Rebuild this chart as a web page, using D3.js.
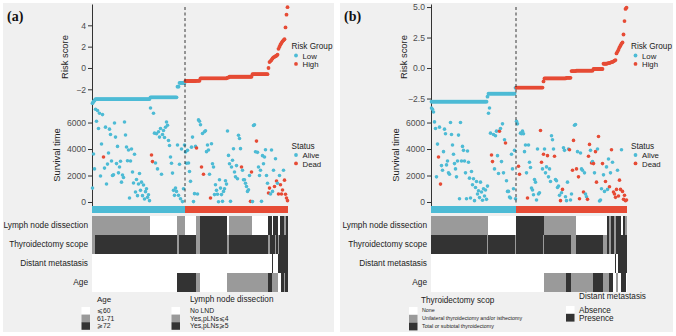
<!DOCTYPE html>
<html><head><meta charset="utf-8">
<script src="https://cdn.jsdelivr.net/npm/d3@7/dist/d3.min.js"></script>
<style>body{margin:0;background:#fff;} svg text{font-family:"Liberation Sans",Arial,Helvetica,sans-serif;}</style>
</head><body><svg id="c" width="676" height="336"></svg>
<script>
// ---------- DATA: panel (a) ----------
// patients sorted by risk score; runs of equal score / equal clinical category
const runN_A     = [1,1,1,55,27,2,6,11,4,27,2,23,16, 1,1,1,1,1,1,1,1,1,1, 1,1,1,1,1,1,1,1,1,1];
const runScore_A = [-3.3,-3.15,-3.05,-2.92,-2.75,-1.75,-1.4,-1.22,-1.2,-0.97,-0.9,-0.82,-0.58, 0.0,0.55,0.65,0.75,0.9,1.0,1.05,1.1,1.15,1.25, 1.8,2.0,2.2,2.35,2.5,2.6,2.7,3.8,5.0,5.7];
const runLND_A   = [1,1,1,1,0,1,1,0,1,2,0,1,0, 2,2,2,2,0,2,2,2,2,2, 0,0,2,2,2,2,1,1,2,2];
const runThy_A   = [1,1,1,2,2,1,2,2,1,2,1,2,2, 1,1,2,2,2,2,2,1,2,2, 1,2,2,2,2,2,2,2,2,2];
const runDM_A    = [0,0,0,0,0,0,0,0,0,0,0,0,0, 0,0,0,0,1,0,0,0,0,0, 1,1,1,1,1,1,1,1,1,1];
const runAge_A   = [0,0,0,0,0,2,2,2,1,0,1,1,1, 2,2,2,2,1,1,1,1,1,1, 0,0,0,2,2,2,1,2,2,2];
const lowCount_A = 93;
const surv_A = [1050,3620,2500,7000,6100,6900,5550,6700,1960,4380,
 6600,3400,2560,5650,1360,2860,3700,5500,5100,3100,
 2000,2050,5960,4900,2900,4200,2200,2640,3080,1500,
 2040,1850,6040,5060,4150,3120,3930,300,3100,4000,
 2260,1430,3600,750,1700,480,1360,2150,880,1500,
 480,1280,230,780,1000,350,550,100,
 7100,3550,3050,6700,5200,2950,5150,2500,5300,4900,5550,2100,5100,5400,4870,5640,6040,5800,4640,4270,
 3400,2930,2180,880,500,1050,800,4300,500,2850,250,4000,30,1000,4300,
 3780,2930,3900,2950,2300,1560,4140,4900,30,630,
 4200,4080,600,6200,6100,5830,2640,5170,2100,5300,
 5380,3800,4300,3930,2100,300,4400,2890,2640,560,
 1300,880,580,20,1680,1050,560,50,800,1000,
 1600,1350,5360,3520,2890,50,2640,3150,4020,2260,
 1900,2750,1760,5040,4800,4030,2640,2400,1680,1680,
 1420,1170,800,920,2000,50,2260,30,5780,5830,
 3790,4600,3750,2640,2000,2400,50,3500,2890,3400,
 3950,2000,1420,680,1050,600,3930,800,2400,1170,
 3270,1580,1420,600,2000,1300,600,900,2400,1650,
 580,300,100];
const dead_A = [11,59,60,104,109,111,118,149,158,159,164,176,177,182,184,186,188,189,190,192,193,194,195];

// ---------- DATA: panel (b) ----------
const runN_B     = [56,1,27,1,27,1,22,5,5,17,10,4, 1,1,1,1,1,1,1,1,1,1, 1,1,1,1,1,1,1,1,1,1];
const runScore_B = [-2.76,-2.35,-2.1,-1.62,-1.6,-1.1,-0.85,-0.8,-0.25,-0.22,-0.08,0.35, 0.38,0.4,0.42,0.45,0.48,0.5,0.55,0.6,0.65,1.2, 1.35,1.5,1.7,1.85,2.0,2.1,2.75,3.85,4.85,4.95];
const runLND_B   = [1,1,0,0,2,2,1,1,1,0,0,0, 2,2,1,1,2,2,2,1,1,2, 2,2,2,2,0,0,2,2,1,1];
const runThy_B   = [2,1,2,1,2,1,2,2,1,2,2,1, 2,2,1,1,2,2,2,1,1,2, 2,2,2,2,2,2,2,2,2,2];
const runDM_B    = [0,0,0,0,0,0,0,0,0,0,0,0, 0,0,0,0,0,0,0,0,1,0, 0,1,1,1,1,1,1,1,1,1];
const runAge_B   = [0,0,0,0,0,0,1,2,1,1,2,1, 1,1,2,2,2,2,0,0,0,1, 1,0,0,0,2,2,2,2,2,0];
const lowCount_B = 85;
const surv_B = [7100,7000,6800,6050,5550,1900,4370,3400,5650,1350,
 2750,2400,3800,5500,5150,2800,3100,2200,2100,6000,
 5100,4300,3600,2900,2500,1900,3100,5050,250,6000,
 3100,4200,3900,3100,2200,250,3850,3000,1800,300,
 2300,1300,1750,100,1100,1550,600,850,330,1500,
 750,130,1000,450,900,200,1200,
 6700,7100,5200,3550,3050,5100,2500,5000,5350,3500,
 2150,5350,5550,3050,5900,2200,4700,4450,1600,800,
 800,370,300,3600,2500,1000,3900,250,
 6100,5900,2700,2100,5200,5150,5350,5150,3800,4300,
 2200,300,4300,3000,2600,1050,900,550,1700,1500,
 150,4000,600,700,5400,3000,2500,3600,4000,2200,
 2650,3500,1900,2500,1550,5000,4700,4000,3450,1700,
 1600,1100,1200,500,100,700,950,4100,3900,400,
 100,1500,4000,3950,150,600,2400,4650,5800,5850,
 2500,3800,1900,250,3700,2500,2400,750,2200,600,
 400,200,3450,4350,3900,2950,3050,2900,2200,3800,
 1500,4000,4950,80,150,1000,2900,2050,800,1550,
 2650,950,3250,1150,2200,3950,3000,750,600,350,
 950,2400,450,1650,950,3950,800,200,500,100,150];
const dead_B = [7,9,60,61,68,74,87,88,96,109,110,112,116,123,129,131,138,141,142,145,147,148,152,156,157,158,160,162,164,165,167,171,174,178,180,182,183,184,185,187,188,189,191,192,193,194,195];

// ---------- tick labels / legends ----------
const riskTicks_A = [-2,0,2,4];
const riskTicks_B = [-2.5,0,2.5,5];
const survTicks = [0,2000,4000,6000];
const rowLabels = ["Lymph node dissection","Thyroidectomy scope","Distant metastasis","Age"];
const ageLegend = ["\u2A7D60","61-71","\u2A7E72"];
const lndLegend = ["No LND","Yes,pLNs\u2A7D4","Yes,pLNs\u2A7E5"];
const thyLegend = ["None","Unilateral thyroidectomy and/or isthectomy","Total or subtotal thyroidectomy"];
const dmLegend = ["Absence","Presence"];

// ---------- DRAW ----------
const svg = d3.select("#c");
const CYAN = "#4DBBD5", RED = "#E64B35";
const heat3 = ["#ffffff","#9a9a9a","#333333"];
const heat2 = ["#ffffff","#333333"];
const BG = "#f0f0f0";

function expand(ns, arr){ const out=[]; ns.forEach((n,k)=>{ for(let j=0;j<n;j++) out.push(arr[k]); }); return out; }

function styleAxis(g){
  g.selectAll("path.domain").attr("stroke","#333").attr("stroke-width",1);
  g.selectAll(".tick line").attr("stroke","#333");
  g.selectAll(".tick text").attr("fill","#4d4d4d").style("font-size","8.6px").style("font-family","'Liberation Sans',Arial,sans-serif");
}

function panel(c){
  const g = svg.append("g");
  g.append("rect").attr("x",c.bx).attr("y",3).attr("width",c.bw).attr("height",329).attr("fill",BG);
  g.append("text").attr("x",c.bx+4).attr("y",21).text(c.tag)
    .style("font-family","'Liberation Serif','DejaVu Serif',serif").style("font-weight","bold").style("font-size","14px").attr("fill","#111");

  const score = expand(c.runN, c.runScore);
  const lnd = expand(c.runN, c.runLND), thy = expand(c.runN, c.runThy), dm = expand(c.runN, c.runDM), age = expand(c.runN, c.runAge);
  const N = score.length;
  const x = d3.scaleLinear().domain([0,N]).range([c.x0, c.x1]);
  const yR = d3.scaleLinear().domain(c.rDom).range([110,4]);
  const yS = d3.scaleLinear().domain([-280,7400]).range([205.7,104]);

  const ax1 = g.append("g").attr("transform",`translate(${c.x0},0)`)
    .call(d3.axisLeft(yR).tickValues(c.rTicks).tickSize(4).tickSizeOuter(0).tickPadding(2).tickFormat(c.rFmt));
  styleAxis(ax1);
  const ax2 = g.append("g").attr("transform",`translate(${c.x0},0)`)
    .call(d3.axisLeft(yS).tickValues(survTicks).tickSize(4).tickSizeOuter(0).tickPadding(2).tickFormat(d3.format("d")));
  styleAxis(ax2);

  g.append("text").attr("transform",`translate(${c.x0-24},57) rotate(-90)`).attr("text-anchor","middle")
    .style("font-size","9.4px").attr("fill","#222").text("Risk score");
  g.append("text").attr("transform",`translate(${c.x0-32},155) rotate(-90)`).attr("text-anchor","middle")
    .style("font-size","9.4px").attr("fill","#222").text("Survival time");

  g.append("g").selectAll("circle").data(score).join("circle")
    .attr("cx",(d,i)=>x(i+0.5)).attr("cy",d=>yR(d)).attr("r",1.9)
    .attr("fill",(d,i)=> i < c.lowCount ? CYAN : RED);

  const deadSet = new Set(c.dead);
  g.append("g").selectAll("circle").data(c.surv).join("circle")
    .attr("cx",(d,i)=>x(i+0.5)).attr("cy",d=>yS(d)).attr("r",1.8)
    .attr("fill",(d,i)=> deadSet.has(i) ? RED : CYAN);

  g.append("line").attr("x1",x(c.lowCount)).attr("x2",x(c.lowCount)).attr("y1",7).attr("y2",204)
    .attr("stroke","#222").attr("stroke-width",0.9).attr("stroke-dasharray","3,2.5");

  g.append("rect").attr("x",x(0)).attr("y",206).attr("width",x(c.lowCount)-x(0)).attr("height",7).attr("fill",CYAN);
  g.append("rect").attr("x",x(c.lowCount)).attr("y",206).attr("width",x(N)-x(c.lowCount)).attr("height",7).attr("fill",RED);

  const rows = [[lnd,heat3],[thy,heat3],[dm,heat2],[age,heat3]];
  const rowTop = 215.5, rowH = 19;
  rows.forEach(([vals,pal],r)=>{
    g.append("g").attr("shape-rendering","crispEdges").selectAll("rect").data(vals).join("rect")
      .attr("x",(d,i)=>x(i)).attr("width",(d,i)=>x(i+1)-x(i)+0.3)
      .attr("y",rowTop+r*rowH).attr("height",rowH).attr("fill",d=>pal[d]);
    g.append("text").attr("x",c.x0-4).attr("y",rowTop+r*rowH+rowH/2+3).attr("text-anchor","end")
      .style("font-size","8.3px").attr("fill","#222").text(rowLabels[r]);
  });

  const L = c.legX;
  function dotLegend(title, y0, labels, cols){
    g.append("text").attr("x",L).attr("y",y0).style("font-size","8.2px").attr("fill","#222").text(title);
    labels.forEach((lab,k)=>{
      g.append("circle").attr("cx",L+4.5).attr("cy",y0+6.5+k*8.4).attr("r",1.9).attr("fill",cols[k]);
      g.append("text").attr("x",L+11).attr("y",y0+9.6+k*8.4).style("font-size","7.8px").attr("fill","#222").text(lab);
    });
  }
  dotLegend("Risk Group",49,["Low","High"],[CYAN,RED]);
  dotLegend("Status",148.5,["Alive","Dead"],[CYAN,RED]);

  c.bottom(g);
}

function sqLegend(g, title, tx, ty, sx, sy0, step, labels, pal, lx, lyOff, tsize, lsize){
  g.append("text").attr("x",tx).attr("y",ty).style("font-size",tsize+"px").attr("fill","#222").text(title);
  labels.forEach((lab,k)=>{
    g.append("rect").attr("x",sx).attr("y",sy0+k*step).attr("width",8.5).attr("height",step).attr("fill",pal[k]);
    g.append("text").attr("x",lx).attr("y",sy0+k*step+lyOff).style("font-size",lsize+"px").attr("fill","#222").text(lab);
  });
}

panel({tag:"(a)", bx:3, bw:331, x0:92, x1:288, rDom:[-3.94,6.0], rTicks:riskTicks_A, rFmt:d3.format("d"),
  runN:runN_A, runScore:runScore_A, runLND:runLND_A, runThy:runThy_A, runDM:runDM_A, runAge:runAge_A,
  lowCount:lowCount_A, surv:surv_A, dead:dead_A, legX:291.5,
  bottom:(g)=>{
    sqLegend(g,"Age",97,301.5,81.5,307,7.6,ageLegend,heat3,97,6,8,6.8);
    sqLegend(g,"Lymph node dissection",190,301.5,171.5,307,7.6,lndLegend,heat3,190,6,8.2,6.8);
  }});

panel({tag:"(b)", bx:340, bw:333, x0:431, x1:627, rDom:[-3.44,5.25], rTicks:riskTicks_B, rFmt:d3.format(".1f"),
  runN:runN_B, runScore:runScore_B, runLND:runLND_B, runThy:runThy_B, runDM:runDM_B, runAge:runAge_B,
  lowCount:lowCount_B, surv:surv_B, dead:dead_B, legX:631,
  bottom:(g)=>{
    sqLegend(g,"Thyroidectomy scop",421,303,409,307,7.8,thyLegend,heat3,422,5,8.2,5.3);
    sqLegend(g,"Distant metastasis",579,299,566,306,7.8,dmLegend,heat2,579,7,8.2,8.2);
  }});
</script></body></html>
